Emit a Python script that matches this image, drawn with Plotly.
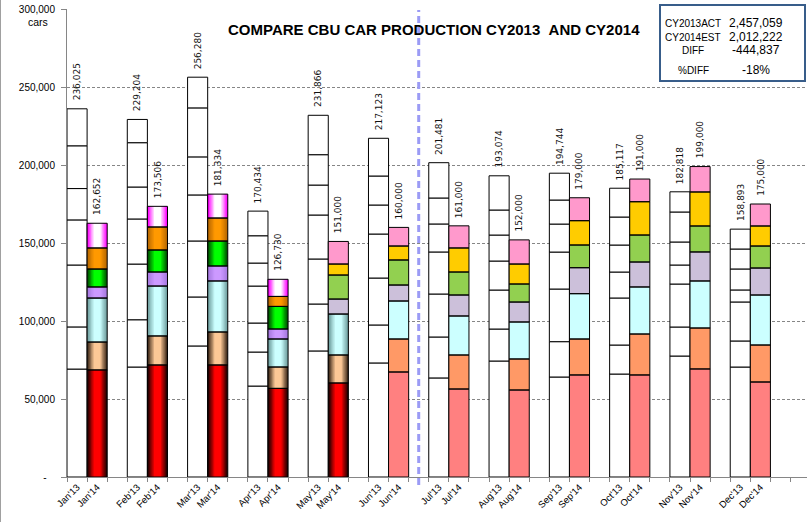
import plotly.graph_objects as go

months = ["Jan", "Feb", "Mar", "Apr", "May", "Jun", "Jul", "Aug", "Sep", "Oct", "Nov", "Dec"]
labels13 = [m + "'13" for m in months]
labels14 = [m + "'14" for m in months]
gaps = ["gap%d" % (i + 1) for i in range(12)]

# CY2013 actual production: 7 stacked blocks per month (bottom -> top)
act13_seg1 = [69200, 70500, 84000, 58300, 80800, 73100, 63500, 74350, 64100, 66000, 77550, 70500]
act13_seg2 = [27000, 30300, 31400, 21800, 30100, 24350, 26250, 20500, 22650, 18600, 18600, 16700]
act13_seg3 = [39700, 35700, 35900, 18600, 28850, 30100, 27550, 25000, 33750, 30150, 27550, 25000]
act13_seg4 = [28900, 28900, 29500, 23700, 28200, 28200, 26950, 18600, 23700, 16650, 12200, 7700]
act13_seg5 = [20100, 20500, 24400, 14750, 19200, 18600, 17950, 16650, 17950, 17300, 14750, 13450]
act13_seg6 = [27400, 28400, 31400, 17500, 19450, 18600, 16650, 16050, 15400, 17950, 19230, 12800]
act13_seg7 = [23725, 14904, 19680, 15784, 25266, 24173, 22631, 21924, 17194, 18467, 12938, 12743]

# CY2014 (actual Jan-May, estimate after): 7 stacked blocks per month (bottom -> top)
est14_seg1 = [68600, 71800, 71800, 56800, 60250, 67300, 56400, 55750, 65400, 65400, 69250, 60900]
est14_seg2 = [17900, 18600, 21150, 13700, 17950, 21150, 21800, 19900, 23050, 26250, 26250, 23700]
est14_seg3 = [28200, 32000, 32700, 17950, 26250, 24350, 25000, 23700, 29050, 30150, 30150, 32050]
est14_seg4 = [7100, 9000, 9600, 6400, 9600, 10250, 13450, 12800, 16650, 16000, 18600, 17300]
est14_seg5 = [11500, 14100, 16000, 14500, 15400, 16050, 14750, 11550, 14550, 17300, 16650, 14100]
est14_seg6 = [13500, 14750, 14750, 6400, 7050, 8950, 15400, 12800, 15600, 21350, 21800, 12850]
est14_seg7 = [15852, 13256, 15334, 10980, 14500, 11950, 14200, 15500, 14700, 14550, 16300, 14100]

yticks = [0, 50000, 100000, 150000, 200000, 250000, 300000]
ytick_text = ["-\u00a0\u00a0\u00a0\u200b", "50,000", "100,000", "150,000", "200,000", "250,000", "300,000"]

act13 = [act13_seg1, act13_seg2, act13_seg3, act13_seg4, act13_seg5, act13_seg6, act13_seg7]
est14 = [est14_seg1, est14_seg2, est14_seg3, est14_seg4, est14_seg5, est14_seg6, est14_seg7]

# styles
flat_colors = ["#FF8080", "#FF9966", "#CCFFFF", "#CCC0DA", "#92D050", "#FFCC00", "#FF99CC"]
grad_colors = [("#200000", "#FF0000"), ("#3F2A1A", "#FCC896"), ("#6F9F9F", "#CCFFFF"),
               ("#A679E0", "#CC99FF"), ("#005000", "#00FF00"), ("#B86800", "#FF9900"),
               ("#FF00FF", "#FFFFFF")]
# months drawn with gradient fill per segment (index)
grad_months = [[0, 1, 2, 3, 4], [0, 1, 2, 3, 4], [0, 1, 2, 3, 4], [0, 1, 2, 3], [0, 1, 2, 3], [0, 1, 2, 3], [0, 1, 2, 3]]


def hx(c):
    return tuple(int(c[i:i + 2], 16) for i in (1, 3, 5))


def mix(a, b, t):
    a, b = hx(a), hx(b)
    return "rgb(%d,%d,%d)" % tuple(round(a[i] + (b[i] - a[i]) * t) for i in range(3))


def cumulative(segs):
    bases = []
    run = [0] * 12
    for s in segs:
        bases.append(list(run))
        run = [run[i] + s[i] for i in range(12)]
    return bases, run


base13, total13 = cumulative(act13)
base14, total14 = cumulative(est14)

cats = []
for i in range(12):
    cats += [labels13[i], labels14[i], gaps[i]]
ticktext = [c if not c.startswith("gap") else "" for c in cats]

fig = go.Figure()

# CY2013 white blocks
for j, seg in enumerate(act13):
    fig.add_trace(go.Bar(x=labels13, y=seg, base=base13[j], width=1,
                         marker=dict(color="white", line=dict(color="black", width=1)),
                         hoverinfo="skip", showlegend=False))

# CY2014 blocks
NL = 6
for j, seg in enumerate(est14):
    gm = grad_months[j]
    fm = [i for i in range(12) if i not in gm]
    if fm:
        fig.add_trace(go.Bar(x=[labels14[i] for i in fm], y=[seg[i] for i in fm],
                             base=[base14[j][i] for i in fm], width=1,
                             marker=dict(color=flat_colors[j], line=dict(width=0)),
                             hoverinfo="skip", showlegend=False))
    edge, center = grad_colors[j]
    for k in range(NL):
        t = k / (NL - 1)
        fig.add_trace(go.Bar(x=[labels14[i] for i in gm], y=[seg[i] for i in gm],
                             base=[base14[j][i] for i in gm], width=1 - k * 0.13,
                             marker=dict(color=mix(edge, center, t), line=dict(width=0)),
                             hoverinfo="skip", showlegend=False))
# outlines on top
for j, seg in enumerate(est14):
    fig.add_trace(go.Bar(x=labels14, y=seg, base=base14[j], width=1,
                         marker=dict(color="rgba(0,0,0,0)", line=dict(color="black", width=1)),
                         hoverinfo="skip", showlegend=False))

annotations = []
for lab, tot in list(zip(labels13, total13)) + list(zip(labels14, total14)):
    annotations.append(dict(x=lab, y=tot, xref="x", yref="y", text="{:,}".format(tot),
                            textangle=-90, showarrow=False, yanchor="bottom", xanchor="center",
                            yshift=6, font=dict(family="DejaVu Sans", size=9, color="#111111")))

# pixel helpers for page-positioned decorations
L, T, W, H = 67, 9, 740, 468


def px(x):
    return (x - L) / W


def py(y):
    return (T + H - y) / H


def label(x, y, text, size, bold=False):
    return dict(x=px(x), y=py(y), xref="paper", yref="paper", text=("<b>%s</b>" % text) if bold else text,
                showarrow=False, xanchor="center", yanchor="middle",
                font=dict(family="Liberation Sans", size=size, color="black"))


annotations.append(label(38, 22, "cars", 10.5))
annotations.append(label(434, 30, "COMPARE CBU CAR PRODUCTION CY2013 \u00a0AND CY2014", 15, bold=True))

sum13 = sum(total13)
sum14 = sum(total14)
diff = sum14 - sum13
pct = round(diff / sum13 * 100)
box_rows = [("CY2013ACT", "{:,}".format(sum13), 23.5), ("CY2014EST", "{:,}".format(sum14), 37),
            ("DIFF", "{:,}".format(diff), 50.5), ("%DIFF", "%d%%" % pct, 71)]
for lt, rt, yy in box_rows:
    annotations.append(label(693, yy, lt, 10))
    annotations.append(label(756, yy - 0.5, rt, 12))

shapes = [
    dict(type="rect", xref="paper", yref="paper", x0=px(660), x1=px(805), y0=py(81), y1=py(5),
         line=dict(color="#385D8A", width=2), fillcolor="white", layer="above"),
    dict(type="line", xref="x", yref="paper", x0=gaps[5], x1=gaps[5], y0=py(485), y1=py(10),
         line=dict(color="#9B9BF5", width=3, dash="7px,4px"), layer="above"),
    dict(type="line", xref="paper", yref="paper", x0=px(0.5), x1=px(0.5), y0=py(522), y1=py(0),
         line=dict(color="#A0A0A0", width=1)),
]

fig.update_layout(
    barmode="overlay",
    width=807, height=522,
    margin=dict(l=L, r=0, t=T, b=522 - T - H, pad=0, autoexpand=False),
    paper_bgcolor="white", plot_bgcolor="white",
    showlegend=False,
    annotations=annotations,
    shapes=shapes,
    xaxis=dict(type="category", categoryorder="array", categoryarray=cats, automargin=False,
               tickmode="array", tickvals=cats, ticktext=ticktext, tickson="boundaries",
               range=[-0.5, 36.32], tickangle=-45, ticks="outside", ticklen=4, tickcolor="#868686",
               showline=True, linecolor="#868686", linewidth=1, showgrid=False, zeroline=False,
               tickfont=dict(family="Liberation Sans", size=9.5, color="black")),
    yaxis=dict(range=[0, 300000], tickmode="array", tickvals=yticks, ticktext=ytick_text, automargin=False,
               ticks="outside", ticklen=5, tickcolor="#868686", showline=True, linecolor="#868686",
               linewidth=1, showgrid=True, gridcolor="#868686", griddash="3px,2px", gridwidth=1,
               zeroline=False, ticklabelstandoff=4,
               tickfont=dict(family="Liberation Sans", size=10, color="black")),
)

fig.write_html("out.html", config={"displayModeBar": False},
               post_script="document.body.style.margin='0';document.body.style.overflow='hidden';")
